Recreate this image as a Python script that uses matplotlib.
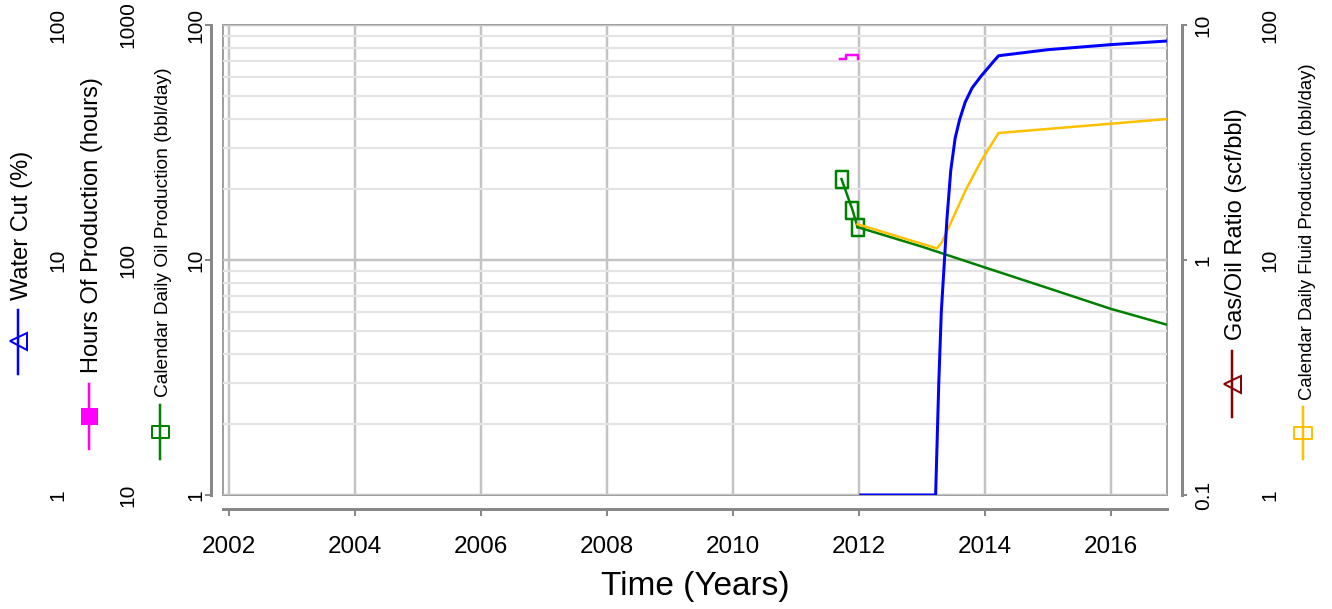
import matplotlib
matplotlib.use("Agg")
import matplotlib.pyplot as plt
from matplotlib.path import Path
from matplotlib.lines import Line2D
from matplotlib.patches import Rectangle
from matplotlib.ticker import NullLocator, NullFormatter

plt.rcParams['font.family'] = ['Liberation Sans', 'DejaVu Sans']

#%% data
years = [2002, 2004, 2006, 2008, 2010, 2012, 2014, 2016]

# water cut (%)
wc_t = [2012.03, 2013.22, 2013.27, 2013.31, 2013.35, 2013.40, 2013.46, 2013.53,
        2013.60, 2013.69, 2013.80, 2013.95, 2014.05, 2014.13, 2014.22, 2015.0, 2016.0, 2016.9]
wc = [1.0, 1.0, 3.0, 6.0, 9.0, 15.0, 24.0, 33.0,
      39.5, 47.0, 54.0, 61.0, 65.5, 69.5, 74.0, 78.5, 82.5, 85.5]

# hours of production (hours)
hrs_t = [2011.70, 2011.79, 2011.99]
hrs = [720, 744, 720]

# calendar daily oil production (bbl/day) - history and forecast
oil_t = [2011.725, 2011.897, 2011.98]
oil = [22.1, 16.4, 13.8]
oil_fc_t = [2011.98, 2013.0, 2014.0, 2015.0, 2016.0, 2016.9]
oil_fc = [13.8, 11.4, 9.3, 7.6, 6.2, 5.3]

# calendar daily fluid production (bbl/day)
fluid_t = [2011.98, 2013.24, 2013.32, 2013.70, 2013.95, 2014.22, 2016.9]
fluid = [14.2, 11.2, 11.9, 19.9, 26.6, 34.7, 39.8]

#%% figure
W, H = 1332, 609
PT = 0.72  # points per pixel at dpi 100

def fx(px):
    return px / W

def fy(py):
    return 1 - py / H

fig = plt.figure(figsize=(W / 100, H / 100), dpi=100)
ax = fig.add_axes([fx(223.3), fy(495), (1167.3 - 223.3) / W, (495 - 25) / H])

def rect_marker(w, h):
    return Path([(-w, -h), (w, -h), (w, h), (-w, h), (-w, -h)],
                [Path.MOVETO, Path.LINETO, Path.LINETO, Path.LINETO, Path.CLOSEPOLY])

sq_tall = rect_marker(0.35, 0.5)
sq_flat = rect_marker(0.5, 0.35)

AXCOL = '#888888'

# host axis = oil production
ax.set_yscale('log')
ax.set_ylim(1, 100)
ax.set_xlim(2001.905, 2016.9)
ax.set_xticks(years, labels=[str(y) for y in years])
ax.set_yticks([1, 10, 100], labels=['1', '10', '100'])
ax.yaxis.set_minor_formatter(NullFormatter())
ax.xaxis.set_minor_locator(NullLocator())

ax.grid(True, which='major', axis='both', color='#c4c4c4', lw=2.5 * PT)
ax.grid(True, which='minor', axis='y', color='#e4e4e4', lw=2.2 * PT)
ax.set_axisbelow(True)

for s in ['top', 'right']:
    ax.spines[s].set_visible(False)
ax.spines['left'].set_position(('outward', 12 * PT))
ax.spines['bottom'].set_position(('outward', 14 * PT))
for s in ['left', 'bottom']:
    ax.spines[s].set_color(AXCOL)
    ax.spines[s].set_linewidth(3 * PT)
ax.add_patch(Rectangle((0, 0), 1, 1, transform=ax.transAxes, fill=False,
                       edgecolor='#a0a0a0', lw=2 * PT, clip_on=False, zorder=0.5))


def extra_axis(side, lo, hi, ticks, labels, offset_px):
    a = ax.twinx()
    a.set_yscale('log')
    a.set_ylim(lo, hi)
    for s in a.spines.values():
        s.set_visible(False)
    if side == 'left':
        a.yaxis.tick_left()
    a.spines[side].set_position(('outward', offset_px * PT))
    a.set_yticks(ticks, labels=labels)
    a.yaxis.set_minor_locator(NullLocator())
    return a


ax_hr = extra_axis('left', 10, 1000, [10, 100, 1000], ['10', '100', '1000'], 86)
ax_gor = extra_axis('right', 0.1, 10, [0.1, 1, 10], ['0.1', '1', '10'], 15)
ax_fl = extra_axis('right', 1, 100, [1, 10, 100], ['1', '10', '100'], 93)
ax_wc = extra_axis('left', 1, 100, [1, 10, 100], ['1', '10', '100'], 156)

ax_gor.spines['right'].set_visible(True)
ax_gor.spines['right'].set_color(AXCOL)
ax_gor.spines['right'].set_linewidth(3 * PT)

# tick styling, done after all twins exist
ax.tick_params(axis='x', direction='out', length=7 * PT, width=2 * PT, color=AXCOL,
               pad=20 * PT, labelsize=17.5)
ax.tick_params(axis='y', which='major', direction='out', length=6 * PT, width=2 * PT,
               color=AXCOL, pad=0, labelsize=15, labelrotation=90)
ax.tick_params(axis='y', which='minor', length=0)
ax_gor.tick_params(axis='y', direction='out', length=5 * PT, width=2 * PT, color=AXCOL,
                   pad=6.5 * PT, labelsize=15, labelrotation=90)
for a in [ax_hr, ax_fl, ax_wc]:
    a.tick_params(axis='y', length=0, pad=0, labelsize=15, labelrotation=90)
for a in [ax, ax_hr, ax_gor, ax_fl, ax_wc]:
    for lbl in a.get_yticklabels():
        lbl.set_va('center')

#%% series
ax.plot(oil_t, oil, color='#008000', lw=2.5 * PT, marker=sq_tall, ms=17 * PT,
        mfc='none', mec='#008000', mew=2.5 * PT)
ax.plot(oil_fc_t, oil_fc, color='#008000', lw=2.5 * PT)
ax_hr.plot(hrs_t, hrs, color='#ff00ff', lw=2.5 * PT, drawstyle='steps-post')
ax_fl.plot(fluid_t, fluid, color='#ffc000', lw=2.5 * PT)
ax_wc.plot(wc_t, wc, color='#0000ff', lw=3 * PT)

#%% axis titles with their key glyphs
def axis_key(x, y0, y1, ym, color, marker, ms, filled=False):
    fig.add_artist(Line2D([fx(x), fx(x)], [fy(y0), fy(y1)], color=color,
                          lw=2.5 * PT, transform=fig.transFigure))
    fig.add_artist(Line2D([fx(x)], [fy(ym)], marker=marker, ms=ms * PT,
                          mfc=color if filled else 'none', mec=color, mew=2 * PT,
                          transform=fig.transFigure))

fig.text(fx(22), fy(225), 'Water Cut (%)', rotation=90, ha='center', va='center', fontsize=17)
axis_key(18, 310, 374, 341, '#0000ff', '<', 17)

fig.text(fx(92), fy(225), 'Hours Of Production (hours)', rotation=90, ha='center', va='center', fontsize=17)
axis_key(89, 384, 449, 416, '#ff00ff', 's', 15, filled=True)

fig.text(fx(164), fy(232), 'Calendar Daily Oil Production (bbl/day)', rotation=90,
         ha='center', va='center', fontsize=13.8)
axis_key(160, 405, 459, 432, '#008000', sq_flat, 17)

fig.text(fx(1236), fy(224), 'Gas/Oil Ratio (scf/bbl)', rotation=90, ha='center', va='center', fontsize=17)
axis_key(1232, 351, 417, 384, '#8b0000', '<', 17)

fig.text(fx(1307), fy(232), 'Calendar Daily Fluid Production (bbl/day)', rotation=90,
         ha='center', va='center', fontsize=13.3)
axis_key(1303, 407, 459, 433, '#ffc000', sq_flat, 18)

fig.text(fx(695), fy(586), 'Time (Years)', ha='center', va='center', fontsize=24)

fig.savefig('out.png', dpi=100)
